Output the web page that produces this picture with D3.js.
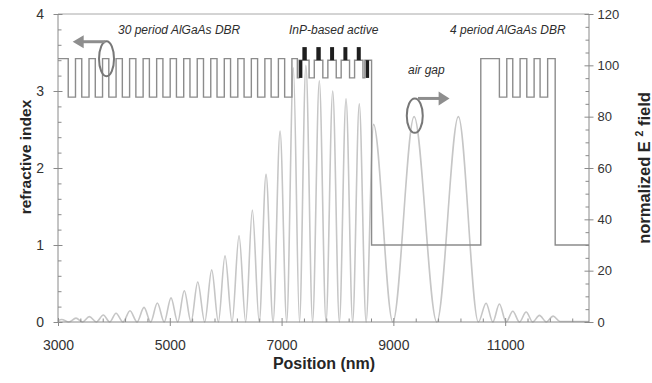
<!DOCTYPE html>
<html><head><meta charset="utf-8">
<script src="https://cdn.jsdelivr.net/npm/d3@7"></script>
<style>
body{margin:0;background:#fff;}
svg{display:block;font-family:'Liberation Sans',Arial,Helvetica,sans-serif;}
</style>
</head><body>
<svg id="c" width="652" height="383"></svg>
<script>
// ---------- data ----------
const xTickValues = [3000, 5000, 7000, 9000, 11000];
const leftTickValues = [0, 1, 2, 3, 4];
const rightTickValues = [0, 20, 40, 60, 80, 100, 120];

// refractive index profile: layer start positions (nm) and index of each layer
const layerStart = [3000, 3183, 3313, 3425, 3555, 3667, 3797, 3909, 4039, 4151, 4281, 4393, 4523, 4635, 4765, 4877,
  5007, 5119, 5249, 5361, 5491, 5603, 5733, 5845, 5975, 6087, 6217, 6329, 6459, 6571, 6701, 6813, 6943, 7055, 7185,
  7282, 7313, 7492, 7585, 7738, 7828, 7978, 8066, 8216, 8306, 8456, 8490, 8610,
  10564, 10897, 11029, 11136, 11267, 11387, 11518, 11625, 11760, 11895, 12500];
const layerIndex = [3.42, 2.92, 3.42, 2.92, 3.42, 2.92, 3.42, 2.92, 3.42, 2.92, 3.42, 2.92, 3.42, 2.92, 3.42, 2.92,
  3.42, 2.92, 3.42, 2.92, 3.42, 2.92, 3.42, 2.92, 3.42, 2.92, 3.42, 2.92, 3.42, 2.92, 3.42, 2.92, 3.42, 2.92, 3.42,
  3.17, 3.40, 3.17, 3.40, 3.17, 3.40, 3.17, 3.40, 3.17, 3.40, 3.17, 3.40, 1.00,
  3.42, 2.92, 3.42, 2.92, 3.42, 2.92, 3.42, 2.92, 3.42, 1.00, 1.00];

// quantum-well stacks (black bars on top) and the two lower black layers
const wellStart = [7372, 7622, 7868, 8106, 8345];
const wellEnd = [7451, 7701, 7939, 8177, 8417];
const wellIndexLow = [3.40, 3.40, 3.40, 3.40, 3.40];
const wellIndexHigh = [3.57, 3.57, 3.57, 3.57, 3.57];
const sideStart = [7313, 8506];
const sideEnd = [7372, 8566];
const sideIndexLow = [3.17, 3.17];
const sideIndexHigh = [3.40, 3.40];

// normalized E^2 field: positions (nm) of extrema and their values
const fieldPos = [3000, 3066, 3194, 3322, 3441, 3560, 3686, 3811, 3925, 4038, 4163, 4288, 4414, 4539, 4658, 4777,
  4900, 5022, 5141, 5260, 5380, 5500, 5625, 5750, 5869, 5988, 6114, 6239, 6358, 6477, 6600, 6722, 6848, 6973,
  7092, 7211, 7320, 7435, 7555, 7675, 7795, 7915, 8034, 8153, 8272, 8390, 8512, 8645, 8990, 9371, 9777, 10163,
  10521, 10659, 10779, 10897, 11017, 11137, 11256, 11375, 11494, 11613, 11736, 11858, 11980, 12500];
const fieldVal = [0.5, 1.0, 0, 1.5, 0, 2.1, 0, 2.7, 0, 3.4, 0, 4.4, 0, 5.7, 0, 7.4,
  0, 9.4, 0, 12.2, 0, 15.6, 0, 20.3, 0, 25.8, 0, 33.6, 0, 43.6, 0, 57.5, 0, 74.4,
  0, 99, 0, 100, 0, 94, 0, 90, 0, 87, 0, 85, 0, 77, 0, 80, 0, 80,
  0, 7.3, 0, 7.0, 0, 4.2, 0, 3.9, 0, 2.6, 0, 2.3, 0.2, 0.2];

// ---------- chart ----------
const svg = d3.select('#c');
svg.append('rect').attr('width', 652).attr('height', 383).attr('fill', '#fff');

const x = d3.scaleLinear().domain([3000, 12500]).range([58, 589]);
const yL = d3.scaleLinear().domain([0, 4]).range([322, 14]);
const yR = d3.scaleLinear().domain([0, 120]).range([322, 14]);

const axisColor = '#8a8a8a';
const labelColor = '#333';

// field curve
const fieldData = fieldPos.map((p, i) => ({p, v: fieldVal[i]}));
svg.append('path')
  .datum(fieldData)
  .attr('fill', 'none')
  .attr('stroke', '#c6c6c6')
  .attr('stroke-width', 1.6)
  .attr('d', d3.line().x(d => x(d.p)).y(d => yR(d.v)).curve(d3.curveMonotoneX));

// index profile
const idxData = layerStart.map((p, i) => ({p, n: layerIndex[i]}));
svg.append('path')
  .datum(idxData)
  .attr('fill', 'none')
  .attr('stroke', '#8c8c8c')
  .attr('stroke-width', 1.4)
  .attr('d', d3.line().x(d => x(d.p)).y(d => yL(d.n)).curve(d3.curveStepAfter));

// black bars
svg.append('g').selectAll('rect').data(wellStart.map((s, i) => ({s, e: wellEnd[i], lo: wellIndexLow[i], hi: wellIndexHigh[i]})))
  .join('rect')
  .attr('x', d => x(d.s)).attr('width', d => x(d.e) - x(d.s))
  .attr('y', d => yL(d.hi)).attr('height', d => yL(d.lo) - yL(d.hi))
  .attr('fill', '#1e1e1e');
svg.append('g').selectAll('rect').data(sideStart.map((s, i) => ({s, e: sideEnd[i], lo: sideIndexLow[i], hi: sideIndexHigh[i]})))
  .join('rect')
  .attr('x', d => x(d.s)).attr('width', d => x(d.e) - x(d.s))
  .attr('y', d => yL(d.hi)).attr('height', d => yL(d.lo) - yL(d.hi))
  .attr('fill', '#1e1e1e');

// ---------- axes ----------
function styleAxis(g, fs) {
  g.selectAll('path.domain').remove();
  g.selectAll('line').attr('stroke', axisColor).attr('stroke-width', 1);
  g.selectAll('text').attr('fill', labelColor).attr('font-size', fs).attr('font-family', null);
}
const xMinor = d3.range(3000, 12500, 400).filter(v => !xTickValues.includes(v));
const lMinor = d3.range(0, 4.001, 0.2).filter(v => Math.abs(v - Math.round(v)) > 1e-6);
const rMinor = d3.range(0, 120.001, 5).filter(v => v % 20 !== 0);

// frame lines
svg.append('line').attr('x1', 58).attr('x2', 589).attr('y1', 14).attr('y2', 14).attr('stroke', '#a8a8a8');
svg.append('line').attr('x1', 58).attr('x2', 589).attr('y1', 322).attr('y2', 322).attr('stroke', axisColor);
svg.append('line').attr('x1', 58).attr('x2', 58).attr('y1', 14).attr('y2', 322).attr('stroke', axisColor);
svg.append('line').attr('x1', 589).attr('x2', 589).attr('y1', 14).attr('y2', 322).attr('stroke', axisColor);

// bottom
svg.append('g').attr('transform', 'translate(0,322)')
  .call(d3.axisBottom(x).tickValues(xTickValues).tickSize(4).tickPadding(14).tickFormat(d3.format('d')))
  .call(g => styleAxis(g, 14));
svg.append('g').attr('transform', 'translate(0,322)')
  .call(d3.axisBottom(x).tickValues(xTickValues).tickSize(-4).tickFormat(''))
  .call(g => styleAxis(g, 12));
svg.append('g').attr('transform', 'translate(0,322)')
  .call(d3.axisBottom(x).tickValues(xMinor).tickSize(-3.5).tickFormat(''))
  .call(g => styleAxis(g, 12));

// left
svg.append('g').attr('transform', 'translate(58,0)')
  .call(d3.axisLeft(yL).tickValues(leftTickValues).tickSize(4.5).tickPadding(9.5).tickFormat(d3.format('d')))
  .call(g => styleAxis(g, 14));
svg.append('g').attr('transform', 'translate(58,0)')
  .call(d3.axisLeft(yL).tickValues(leftTickValues).tickSize(-4.5).tickFormat(''))
  .call(g => styleAxis(g, 12));
svg.append('g').attr('transform', 'translate(58,0)')
  .call(d3.axisLeft(yL).tickValues(lMinor).tickSize(-3.5).tickFormat(''))
  .call(g => styleAxis(g, 12));

// right
svg.append('g').attr('transform', 'translate(589,0)')
  .call(d3.axisRight(yR).tickValues(rightTickValues).tickSize(4.5).tickPadding(4).tickFormat(d3.format('d')))
  .call(g => styleAxis(g, 13));
svg.append('g').attr('transform', 'translate(589,0)')
  .call(d3.axisRight(yR).tickValues(rightTickValues).tickSize(-4.5).tickFormat(''))
  .call(g => styleAxis(g, 12));
svg.append('g').attr('transform', 'translate(589,0)')
  .call(d3.axisRight(yR).tickValues(rMinor).tickSize(-3.5).tickFormat(''))
  .call(g => styleAxis(g, 12));

// axis titles
svg.append('text').attr('transform', 'translate(31,157) rotate(-90)')
  .attr('text-anchor', 'middle').attr('font-weight', 'bold').attr('font-size', 15.5).attr('fill', '#262626')
  .text('refractive index');
const rt = svg.append('text').attr('transform', 'translate(649.5,168) rotate(-90)')
  .attr('text-anchor', 'middle').attr('font-weight', 'bold').attr('font-size', 16.5).attr('fill', '#262626');
rt.append('tspan').text('normalized E\u00a0');
rt.append('tspan').attr('font-size', 10.5).attr('dy', -6.5).text('2');
rt.append('tspan').attr('dy', 6.5).text('\u00a0field');
svg.append('text').attr('x', 324).attr('y', 369)
  .attr('text-anchor', 'middle').attr('font-weight', 'bold').attr('font-size', 16).attr('fill', '#262626')
  .text('Position (nm)');

// ---------- annotations ----------
const annoColor = '#2e2e2e';
function anno(tx, ty, s) {
  svg.append('text').attr('x', tx).attr('y', ty).attr('font-style', 'italic')
    .attr('font-size', 12).attr('fill', annoColor).text(s);
}
anno(118, 34, '30 period AlGaAs DBR');
anno(289, 34, 'InP-based active');
anno(450, 34, '4 period AlGaAs DBR');
anno(408, 74, 'air gap');

const arrowColor = '#8e8e8e';
// left ellipse + arrow (pointing to left axis)
svg.append('ellipse').attr('cx', x(3868)).attr('cy', yL(3.42)).attr('rx', 7.5).attr('ry', 17.5)
  .attr('fill', 'none').attr('stroke', '#777').attr('stroke-width', 2);
svg.append('line').attr('x1', x(3445)).attr('x2', x(3845)).attr('y1', yL(3.64)).attr('y2', yL(3.64))
  .attr('stroke', arrowColor).attr('stroke-width', 3);
svg.append('path').attr('fill', arrowColor)
  .attr('d', `M${x(3263)},${yL(3.64)} L${x(3460)},${yL(3.64) - 6.5} L${x(3460)},${yL(3.64) + 6.5} Z`);

// air gap ellipse + arrow (pointing to right axis)
svg.append('ellipse').attr('cx', x(9383)).attr('cy', yR(80.4)).attr('rx', 8).attr('ry', 17.2)
  .attr('fill', 'none').attr('stroke', '#777').attr('stroke-width', 2);
svg.append('line').attr('x1', x(9440)).attr('x2', x(9830)).attr('y1', yR(87.1)).attr('y2', yR(87.1))
  .attr('stroke', arrowColor).attr('stroke-width', 3);
svg.append('path').attr('fill', arrowColor)
  .attr('d', `M${x(10005)},${yR(87.1)} L${x(9810)},${yR(87.1) - 7} L${x(9810)},${yR(87.1) + 7} Z`);
</script>
</body></html>
